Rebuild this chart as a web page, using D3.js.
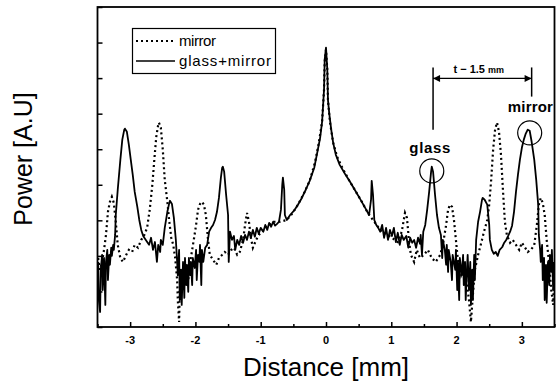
<!DOCTYPE html>
<html>
<head>
<meta charset="utf-8">
<script src="https://cdn.jsdelivr.net/npm/d3@7"></script>
<style>
  body { margin: 0; background: #fff; }
  svg { display: block; font-family: Arial, "Liberation Sans", sans-serif; }
</style>
</head>
<body>
<svg id="chart" width="556" height="383"></svg>
<script>
// distance ticks (mm)
const majorTicks = [-3, -2, -1, 0, 1, 2, 3];
const minorTicks = [-3.5, -2.5, -1.5, -0.5, 0.5, 1.5, 2.5, 3.5];
const powerTicks = [0, 1, 2, 3, 4, 5, 6, 7, 8, 9];

// mirror only (dotted)
const mirrorX = [-3.49, -3.46, -3.43, -3.40, -3.37, -3.34, -3.31, -3.28, -3.25, -3.22, -3.19, -3.15, -3.11, -3.06, -3.02, -2.97, -2.93, -2.88, -2.83, -2.79,
  -2.74, -2.70, -2.66, -2.63, -2.60, -2.57, -2.56, -2.53, -2.50, -2.47, -2.43, -2.40, -2.37, -2.34, -2.31, -2.28, -2.27, -2.25, -2.24, -2.21,
  -2.17, -2.14, -2.11, -2.08, -2.05, -2.02, -1.99, -1.96, -1.93, -1.90, -1.87, -1.84, -1.81, -1.78, -1.73, -1.68, -1.64, -1.59, -1.55, -1.50,
  -1.45, -1.41, -1.36, -1.32, -1.27, -1.24, -1.21, -1.18, -1.15, -1.12, -1.07, -1.03, -0.98, -0.93, -0.89, -0.84, -0.80, -0.75, -0.70, -0.60,
  -0.52, -0.43, -0.34, -0.25, -0.17, -0.11, -0.06, -0.03, -0.02, 0, 0.02, 0.03, 0.06, 0.11, 0.17, 0.25, 0.34, 0.44, 0.55, 0.64,
  0.74, 0.83, 0.92, 1.01, 1.10, 1.16, 1.21, 1.24, 1.27, 1.30, 1.35, 1.39, 1.44, 1.50, 1.56, 1.62, 1.68, 1.75, 1.79, 1.84,
  1.87, 1.90, 1.93, 1.96, 1.99, 2.02, 2.07, 2.11, 2.16, 2.19, 2.22, 2.25, 2.28, 2.33, 2.37, 2.42, 2.47, 2.50, 2.53, 2.56,
  2.59, 2.62, 2.65, 2.68, 2.71, 2.74, 2.77, 2.82, 2.86, 2.91, 2.96, 3.00, 3.05, 3.09, 3.14, 3.19, 3.23, 3.26, 3.29, 3.32,
  3.35, 3.38, 3.42, 3.45, 3.48, 3.49];
const mirrorY = [1.94, 1.61, 1.83, 2.17, 2.59, 3.24, 3.52, 3.66, 3.49, 2.96, 2.31, 1.94, 1.83, 2.03, 2.17, 2.11, 2.31, 2.23, 2.45, 2.56,
  2.79, 3.30, 4.00, 4.70, 5.35, 5.69, 5.75, 5.61, 4.99, 4.14, 3.52, 2.96, 2.51, 2.31, 1.94, 1.32, 0.76, 0.14, 1.04, 1.46,
  1.18, 1.61, 1.32, 1.83, 2.17, 2.51, 2.87, 3.30, 3.46, 3.52, 3.44, 3.15, 2.51, 2.03, 1.89, 1.75, 1.94, 2.03, 2.11, 2.03,
  2.17, 2.23, 2.03, 2.11, 2.45, 2.87, 3.21, 2.96, 2.51, 2.23, 2.45, 2.59, 2.68, 2.79, 2.85, 2.90, 2.96, 2.96, 2.96, 3.01,
  3.18, 3.44, 3.75, 4.11, 4.62, 5.18, 5.77, 6.68, 7.46, 7.80, 7.24, 6.39, 5.77, 5.18, 4.79, 4.48, 4.17, 3.86, 3.52, 3.21,
  2.96, 2.73, 2.62, 2.51, 2.39, 2.68, 3.21, 3.07, 2.45, 2.03, 1.83, 2.17, 1.94, 2.03, 2.17, 1.94, 1.83, 2.03, 2.31, 2.87,
  3.30, 3.44, 3.38, 3.01, 2.45, 1.89, 1.46, 1.66, 1.18, 0.76, 0.14, 0.90, 1.61, 2.03, 2.31, 2.68, 3.01, 3.44, 4.14, 4.99,
  5.55, 5.75, 5.49, 4.85, 3.86, 2.96, 2.59, 2.37, 2.45, 2.31, 2.17, 2.37, 2.23, 2.11, 2.17, 2.31, 2.87, 3.44, 3.63, 3.49,
  3.15, 2.45, 1.75, 1.04, 0.62, 1.32];

// glass + mirror (solid)
const glassX = [-3.49, -3.48, -3.46, -3.45, -3.43, -3.42, -3.40, -3.38, -3.37, -3.35, -3.34, -3.32, -3.31, -3.29, -3.28, -3.26, -3.25, -3.23, -3.22, -3.19,
  -3.15, -3.12, -3.09, -3.08, -3.05, -3.02, -2.99, -2.96, -2.93, -2.89, -2.86, -2.83, -2.80, -2.76, -2.71, -2.68, -2.65, -2.62, -2.59, -2.57,
  -2.54, -2.53, -2.50, -2.47, -2.43, -2.40, -2.39, -2.36, -2.33, -2.30, -2.28, -2.27, -2.25, -2.24, -2.22, -2.21, -2.19, -2.17, -2.16, -2.14,
  -2.13, -2.11, -2.10, -2.08, -2.07, -2.05, -2.04, -2.01, -1.99, -1.98, -1.96, -1.94, -1.93, -1.91, -1.90, -1.88, -1.85, -1.82, -1.79, -1.76,
  -1.73, -1.70, -1.67, -1.64, -1.61, -1.59, -1.58, -1.56, -1.53, -1.50, -1.49, -1.47, -1.44, -1.41, -1.39, -1.36, -1.33, -1.30, -1.27, -1.24,
  -1.21, -1.18, -1.15, -1.12, -1.09, -1.06, -1.03, -1.00, -0.96, -0.93, -0.90, -0.87, -0.84, -0.81, -0.78, -0.75, -0.72, -0.69, -0.67, -0.66,
  -0.64, -0.63, -0.60, -0.55, -0.49, -0.43, -0.37, -0.31, -0.25, -0.18, -0.14, -0.09, -0.06, -0.05, -0.03, -0.02, 0, 0.02, 0.03, 0.05,
  0.08, 0.11, 0.15, 0.21, 0.29, 0.37, 0.44, 0.52, 0.60, 0.66, 0.69, 0.70, 0.72, 0.74, 0.77, 0.80, 0.83, 0.86, 0.89, 0.92,
  0.95, 0.98, 1.01, 1.04, 1.07, 1.10, 1.13, 1.16, 1.19, 1.23, 1.26, 1.29, 1.32, 1.35, 1.38, 1.41, 1.44, 1.45, 1.47, 1.49,
  1.52, 1.55, 1.58, 1.61, 1.62, 1.64, 1.67, 1.70, 1.73, 1.76, 1.78, 1.79, 1.82, 1.84, 1.85, 1.87, 1.88, 1.91, 1.93, 1.94,
  1.98, 1.99, 2.01, 2.02, 2.04, 2.05, 2.08, 2.10, 2.11, 2.13, 2.14, 2.16, 2.17, 2.19, 2.21, 2.22, 2.24, 2.25, 2.27, 2.28,
  2.30, 2.33, 2.36, 2.39, 2.40, 2.43, 2.47, 2.50, 2.51, 2.54, 2.57, 2.60, 2.63, 2.66, 2.70, 2.73, 2.76, 2.79, 2.82, 2.85,
  2.88, 2.91, 2.94, 2.97, 3.00, 3.03, 3.06, 3.09, 3.12, 3.15, 3.19, 3.22, 3.25, 3.26, 3.28, 3.29, 3.31, 3.32, 3.34, 3.35,
  3.37, 3.38, 3.40, 3.42, 3.43, 3.45, 3.46, 3.48, 3.49];
const glassY = [1.83, 0.76, 0.42, 1.61, 2.03, 1.04, 1.94, 0.62, 1.83, 2.17, 1.32, 2.03, 1.75, 2.23, 2.00, 2.31, 2.17, 2.59, 3.15, 3.86,
  4.70, 5.27, 5.55, 5.58, 5.49, 5.13, 4.70, 4.28, 3.80, 3.38, 3.01, 2.73, 2.56, 2.45, 2.31, 2.51, 2.17, 2.39, 1.83, 2.31,
  2.11, 2.45, 2.31, 2.79, 3.24, 3.49, 3.55, 3.46, 3.07, 2.45, 1.83, 1.46, 2.17, 0.76, 1.61, 0.62, 1.83, 0.82, 1.94, 1.18,
  1.75, 0.99, 1.94, 1.46, 1.83, 1.18, 1.94, 1.66, 2.17, 1.32, 2.03, 1.83, 2.31, 1.18, 2.17, 1.83, 2.23, 2.31, 2.68, 2.79,
  2.87, 3.01, 3.24, 3.63, 4.20, 4.48, 4.51, 4.37, 3.72, 3.15, 1.83, 2.68, 2.45, 2.56, 2.17, 2.45, 2.31, 2.56, 2.37, 2.59,
  2.45, 2.68, 2.51, 2.73, 2.54, 2.79, 2.62, 2.79, 2.68, 2.87, 2.73, 2.93, 2.82, 2.96, 2.85, 2.90, 2.96, 3.30, 4.00, 4.20,
  3.86, 3.15, 3.01, 3.15, 3.27, 3.44, 3.63, 3.86, 4.11, 4.48, 4.85, 5.32, 5.77, 6.06, 6.68, 7.52, 7.86, 7.24, 6.39, 6.00,
  5.55, 5.18, 4.85, 4.56, 4.31, 4.08, 3.86, 3.61, 3.35, 3.15, 3.58, 4.11, 3.72, 3.01, 2.87, 2.79, 2.68, 2.87, 2.51, 2.79,
  2.45, 2.73, 2.56, 2.79, 2.39, 2.65, 2.31, 2.59, 2.45, 2.56, 2.23, 2.51, 2.37, 2.45, 2.23, 2.51, 2.34, 2.59, 2.03, 2.68,
  2.87, 3.30, 3.80, 4.37, 4.51, 4.37, 3.72, 3.15, 2.79, 2.59, 1.94, 2.45, 2.17, 1.75, 2.31, 1.55, 2.17, 1.83, 1.32, 2.03,
  1.61, 2.17, 1.04, 1.83, 0.76, 1.94, 1.46, 2.03, 1.18, 1.83, 0.76, 1.66, 2.03, 1.04, 1.83, 0.62, 1.61, 0.76, 2.03, 1.32,
  2.45, 2.96, 3.24, 3.58, 3.63, 3.58, 3.44, 2.87, 2.45, 2.17, 2.06, 2.11, 2.00, 2.17, 2.25, 2.37, 2.45, 2.56, 2.68, 2.85,
  3.24, 3.80, 4.28, 4.70, 5.04, 5.27, 5.44, 5.55, 5.52, 5.21, 4.70, 4.14, 3.44, 2.59, 2.17, 1.83, 2.31, 1.32, 1.94, 0.76,
  1.75, 0.68, 1.83, 1.18, 2.03, 1.55, 2.17, 1.04, 1.83];

const svg = d3.select("#chart");
const plotLeft = 97.5, plotRight = 554.5, plotTop = 7, plotBottom = 327;

const x = d3.scaleLinear().domain([-3.5, 3.5]).range([plotLeft, plotRight]);
const y = d3.scaleLinear().domain([0, 9]).range([plotBottom, plotTop]);

const mirror = mirrorX.map((d, i) => [d, mirrorY[i]]);
const glassMirror = glassX.map((d, i) => [d, glassY[i]]);

const line = d3.line()
  .x(d => x(d[0]))
  .y(d => y(d[1]));

// curves
svg.append("path")
  .datum(mirror)
  .attr("d", line)
  .attr("fill", "none")
  .attr("stroke", "#000")
  .attr("stroke-width", 2.2)
  .attr("stroke-dasharray", "2,3");

svg.append("path")
  .datum(glassMirror)
  .attr("d", line)
  .attr("fill", "none")
  .attr("stroke", "#000")
  .attr("stroke-width", 1.8)
  .attr("stroke-linejoin", "round");

// bottom axis, ticks pointing inward
svg.append("g")
  .attr("transform", "translate(0," + plotBottom + ")")
  .call(d3.axisTop(x).tickValues(majorTicks).tickSize(5).tickFormat(""))
  .select(".domain").remove();

svg.append("g")
  .attr("transform", "translate(0," + plotBottom + ")")
  .call(d3.axisTop(x).tickValues(minorTicks).tickSize(3).tickFormat(""))
  .select(".domain").remove();

svg.selectAll(".xlabel")
  .data(majorTicks)
  .enter()
  .append("text")
  .attr("class", "xlabel")
  .attr("x", d => x(d))
  .attr("y", 344)
  .attr("text-anchor", "middle")
  .style("font-size", "11px")
  .style("font-weight", "bold")
  .text(d => d);

// left axis ticks, inward
svg.append("g")
  .attr("transform", "translate(" + plotLeft + ",0)")
  .call(d3.axisRight(y).tickValues(powerTicks).tickSize(5).tickFormat(""))
  .select(".domain").remove();

svg.selectAll(".tick line").attr("stroke-width", 1.5);

// frame
svg.append("rect")
  .attr("x", plotLeft)
  .attr("y", plotTop)
  .attr("width", plotRight - plotLeft)
  .attr("height", plotBottom - plotTop)
  .attr("fill", "none")
  .attr("stroke", "#000")
  .attr("stroke-width", 1.8);

// axis titles
svg.append("text")
  .attr("x", x(0))
  .attr("y", 376)
  .attr("text-anchor", "middle")
  .style("font-size", "26px")
  .text("Distance [mm]");

svg.append("text")
  .attr("transform", "translate(32,159)rotate(-90)")
  .attr("text-anchor", "middle")
  .style("font-size", "25px")
  .text("Power [A.U]");

// legend
const legend = svg.append("g");
legend.append("rect")
  .attr("x", 132.5).attr("y", 28.5)
  .attr("width", 143).attr("height", 45)
  .attr("fill", "#fff").attr("stroke", "#000").attr("stroke-width", 1.2);
legend.append("line")
  .attr("x1", 136).attr("x2", 175).attr("y1", 41).attr("y2", 41)
  .attr("stroke", "#000").attr("stroke-width", 2).attr("stroke-dasharray", "2,3");
legend.append("line")
  .attr("x1", 136).attr("x2", 175).attr("y1", 61).attr("y2", 61)
  .attr("stroke", "#000").attr("stroke-width", 1.3);
legend.append("text")
  .attr("x", 179).attr("y", 46)
  .attr("textLength", 37)
  .style("font-size", "15px")
  .text("mirror");
legend.append("text")
  .attr("x", 179).attr("y", 66)
  .attr("textLength", 92)
  .style("font-size", "15px")
  .text("glass+mirror");

// annotations: circles around peaks
svg.append("circle")
  .attr("cx", x(1.62)).attr("cy", y(4.39)).attr("r", 12)
  .attr("fill", "none").attr("stroke", "#000").attr("stroke-width", 1.2);
svg.append("circle")
  .attr("cx", x(3.12)).attr("cy", y(5.46)).attr("r", 12)
  .attr("fill", "none").attr("stroke", "#000").attr("stroke-width", 1.2);

svg.append("text")
  .attr("x", x(1.59)).attr("y", y(4.9))
  .attr("text-anchor", "middle")
  .attr("textLength", 41)
  .style("font-size", "15px")
  .style("font-weight", "bold")
  .text("glass");
svg.append("text")
  .attr("x", x(3.13)).attr("y", y(6.06))
  .attr("text-anchor", "middle")
  .attr("textLength", 45)
  .style("font-size", "15px")
  .style("font-weight", "bold")
  .text("mirror");

// thickness marker
const defs = svg.append("defs");
defs.append("marker")
  .attr("id", "arr")
  .attr("viewBox", "0 0 10 10")
  .attr("refX", 10).attr("refY", 5)
  .attr("markerWidth", 10).attr("markerHeight", 7)
  .attr("markerUnits", "userSpaceOnUse")
  .attr("orient", "auto-start-reverse")
  .append("path")
  .attr("d", "M0,0L10,5L0,10z")
  .attr("fill", "#000");

svg.append("line")
  .attr("x1", x(1.64)).attr("x2", x(1.64))
  .attr("y1", y(7.3)).attr("y2", y(5.55))
  .attr("stroke", "#000").attr("stroke-width", 1.5);
svg.append("line")
  .attr("x1", x(3.15)).attr("x2", x(3.15))
  .attr("y1", y(7.3)).attr("y2", y(6.48))
  .attr("stroke", "#000").attr("stroke-width", 1.5);
svg.append("line")
  .attr("x1", x(1.64)).attr("x2", x(3.15))
  .attr("y1", y(6.99)).attr("y2", y(6.99))
  .attr("stroke", "#000").attr("stroke-width", 1.2)
  .attr("marker-start", "url(#arr)")
  .attr("marker-end", "url(#arr)");

const tLabel = svg.append("text")
  .attr("x", x(2.34)).attr("y", y(7.13))
  .attr("text-anchor", "middle")
  .style("font-size", "11px")
  .style("font-weight", "bold");
tLabel.append("tspan").text("t \u2212 1.5 ");
tLabel.append("tspan").style("font-size", "9px").text("mm");
</script>
</body>
</html>
